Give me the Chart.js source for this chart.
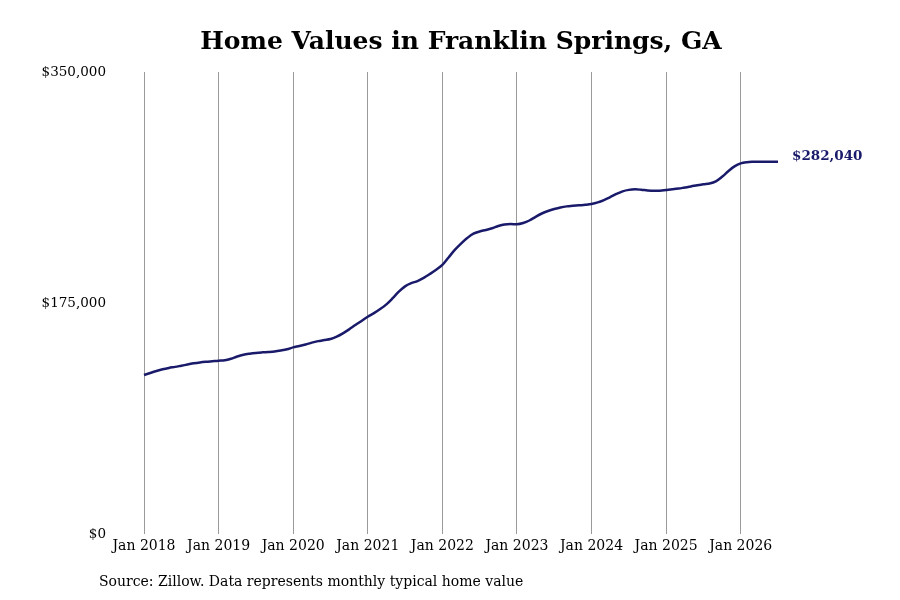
<!DOCTYPE html>
<html>
<head>
<meta charset="utf-8">
<script src="https://cdn.jsdelivr.net/npm/chart.js@4.4.1/dist/chart.umd.min.js"></script>
<style>
  html, body { margin: 0; padding: 0; background: #fff; font-family: 'DejaVu Serif', serif; }
  #wrap { width: 900px; height: 600px; position: relative; }
</style>
</head>
<body>
<div id="wrap"><canvas id="homeChart" width="900" height="600"></canvas></div>
<script>
const chartTitle = "Home Values in Franklin Springs, GA";
const sourceNote = "Source: Zillow. Data represents monthly typical home value";

const monthNames = ["Jan", "Feb", "Mar", "Apr", "May", "Jun", "Jul", "Aug", "Sep", "Oct", "Nov", "Dec"];
const years = [2018, 2019, 2020, 2021, 2022, 2023, 2024, 2025, 2026];

// typical home value, monthly, Jan 2018 - Jul 2026
const homeValues = [
    120500, 122000, 123500, 124800, 125800, 126600, 127500, 128400, 129300, 130000, 130500, 130900,
    131300, 131600, 132800, 134500, 135800, 136600, 137200, 137600, 137900, 138300, 139000, 139900,
    141400, 142400, 143600, 145000, 146100, 146900, 147700, 149500, 152000, 155000, 158300, 161400,
    164600, 167300, 170400, 174000, 178600, 183600, 187600, 190000, 191600, 194000, 197000, 200200,
    203800, 209500, 215200, 220000, 224200, 227500, 229200, 230300, 231600, 233300, 234500, 234900,
    234600, 235600, 237500, 240300, 242800, 244700, 246200, 247400, 248200, 248600, 249000, 249400,
    250000, 251200, 253000, 255200, 257600, 259600, 260700, 261100, 260800, 260300, 260000, 260100,
    260600, 261100, 261700, 262500, 263300, 264200, 265000, 265600, 267200, 270600, 274800, 278500,
    280800, 281700, 282000, 282100, 282000, 282000, 282040
];

const yTicks = [0, 175000, 350000];

const monthLabels = [];
years.forEach(y => monthNames.forEach(m => monthLabels.push(`${m} ${y}`)));
monthLabels.length = homeValues.length;

const lineColor = "#1a1a6b";
const serif = "'DejaVu Serif', serif";

function money(v) {
    return "$" + v.toLocaleString("en-US");
}

// title, source line and the last-value label
const textPlugin = {
    id: "textPlugin",
    afterDraw(chart) {
        const ctx = chart.ctx;
        const area = chart.chartArea;
        ctx.save();
        ctx.fillStyle = "#000";
        ctx.font = `bold 25px ${serif}`;
        ctx.textAlign = "center";
        ctx.textBaseline = "middle";
        ctx.fillText(chartTitle, (area.left + area.right) / 2, 42);

        ctx.font = `14px ${serif}`;
        ctx.textAlign = "left";
        ctx.fillText(sourceNote, 99, 582);

        const meta = chart.getDatasetMeta(0);
        const last = meta.data[meta.data.length - 1];
        ctx.fillStyle = lineColor;
        ctx.font = `bold 13.5px ${serif}`;
        ctx.fillText(money(homeValues[homeValues.length - 1]), last.x + 14, last.y - 5);
        ctx.restore();
    }
};

new Chart(document.getElementById("homeChart"), {
    type: "line",
    data: {
        labels: monthLabels,
        datasets: [{
            data: homeValues,
            borderColor: lineColor,
            borderWidth: 2.5,
            pointRadius: 0,
            tension: 0.35,
            fill: false
        }]
    },
    options: {
        responsive: false,
        animation: false,
        layout: { padding: { top: 72, right: 122, bottom: 36, left: 0 } },
        plugins: {
            legend: { display: false },
            tooltip: { enabled: false }
        },
        scales: {
            x: {
                grid: {
                    color: c => (c.index % 12 === 0 ? "#9a9a9a" : "rgba(0,0,0,0)"),
                    lineWidth: 1,
                    drawTicks: false
                },
                border: { display: false },
                ticks: {
                    autoSkip: false,
                    maxRotation: 0,
                    minRotation: 0,
                    padding: 4,
                    color: "#000",
                    font: { family: serif, size: 14 },
                    callback: (val, i) => (i % 12 === 0 ? monthLabels[i] : "")
                },
                afterFit: s => { s.height = 30; }
            },
            y: {
                min: 0,
                max: 350000,
                afterBuildTicks: s => { s.ticks = yTicks.map(v => ({ value: v })); },
                grid: { display: false, drawTicks: false },
                border: { display: false },
                ticks: {
                    padding: 38,
                    color: "#000",
                    font: { family: serif, size: 13.5 },
                    callback: v => money(v)
                },
                afterFit: s => { s.width = 144; }
            }
        }
    },
    plugins: [textPlugin]
});
</script>
</body>
</html>
